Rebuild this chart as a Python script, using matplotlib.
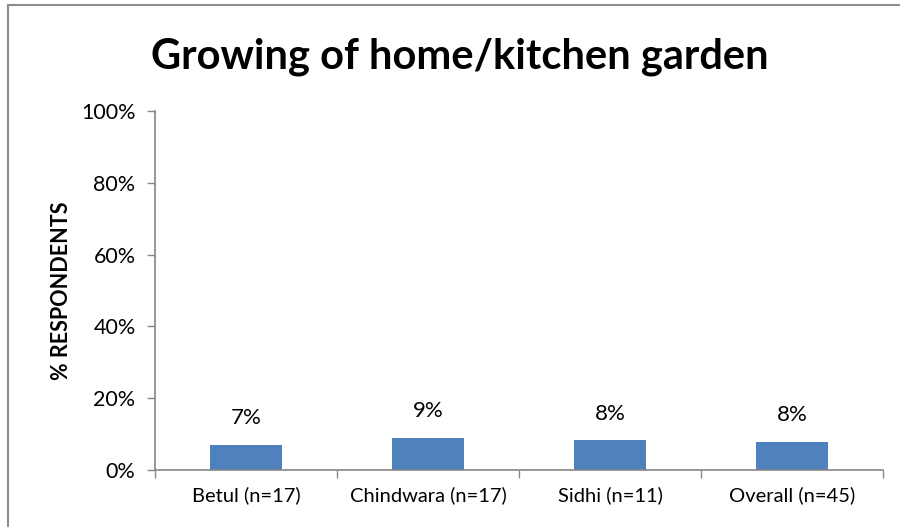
import numpy as np
import matplotlib.pyplot as plt
from matplotlib.lines import Line2D

# data
districts = ['Betul (n=17)', 'Chindwara (n=17)', 'Sidhi (n=11)', 'Overall (n=45)']
pct_growing = [7.0, 9.0, 8.3, 7.9]
pct_labels = ['7%', '9%', '8%', '8%']
y_ticks = [0, 20, 40, 60, 80, 100]

plt.rcParams['font.family'] = ['Lato', 'DejaVu Sans']

bar_color = '#4F81BD'
axis_gray = '#868686'

fig = plt.figure(figsize=(9, 5.27), dpi=100)
ax = fig.add_axes([155/900, 1 - 470/527, (883 - 155)/900, (470 - 111)/527])

x = np.arange(len(districts))
ax.bar(x, pct_growing, width=0.4, color=bar_color, zorder=2)

for xi, v, lab in zip(x, pct_growing, pct_labels):
    ax.annotate(lab, (xi, v), xytext=(0, 19), textcoords='offset points',
                ha='center', va='center', fontsize=16, color='black')

ax.set_xlim(-0.5, len(districts) - 0.5)
ax.set_ylim(0, 100)
ax.set_yticks(y_ticks)
ax.set_yticklabels([f'{t}%' for t in y_ticks], fontsize=15.5)

# category ticks sit between the bars, labels under each bar
ax.set_xticks(np.arange(len(districts) + 1) - 0.5)
ax.set_xticklabels([])
ax.set_xticks(x, minor=True)
ax.set_xticklabels(districts, minor=True, fontsize=14.5)
ax.tick_params(axis='x', which='minor', length=0, pad=12)
ax.tick_params(axis='x', which='major', length=6, width=1, color=axis_gray)
ax.tick_params(axis='y', length=6, width=1, color=axis_gray, pad=8)

for side in ['top', 'right']:
    ax.spines[side].set_visible(False)
for side in ['left', 'bottom']:
    ax.spines[side].set_color(axis_gray)
    ax.spines[side].set_linewidth(1.2)

ax.set_ylabel('% RESPONDENTS', fontsize=15.5, fontweight='bold')
ax.yaxis.set_label_coords((72 - 155)/(883 - 155), 0.5)

fig.text(460/900, 1 - 57/527, 'Growing of home/kitchen garden',
         ha='center', va='center', fontsize=30, fontweight='bold')

# chart border (only top and left edges show in the reference)
fig.add_artist(Line2D([8/900, 8/900], [0, 1 - 5/527], transform=fig.transFigure,
                      color='#8c8c8c', lw=1.5))
fig.add_artist(Line2D([8/900, 1], [1 - 5/527, 1 - 5/527], transform=fig.transFigure,
                      color='#8c8c8c', lw=1.5))

fig.savefig('out.png', dpi=100)
